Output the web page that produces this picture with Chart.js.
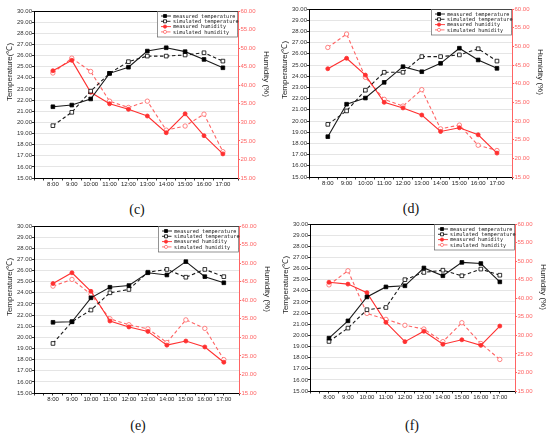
<!DOCTYPE html>
<html>
<head>
<meta charset="utf-8">
<script src="https://cdn.jsdelivr.net/npm/chart.js@4.4.1/dist/chart.umd.min.js"></script>
<style>
  html, body { margin: 0; padding: 0; background: #fff; }
  #wrap { position: relative; width: 550px; height: 436px; overflow: hidden; background: #fff; }
  canvas { position: absolute; }
  .cap { position: absolute; width: 40px; margin-left: -20px; text-align: center;
         font: 14px "Liberation Serif", serif; color: #111; line-height: 16px; }
</style>
</head>
<body>
<div id="wrap">
  <canvas id="panelC" width="275" height="198" style="left:0;top:0"></canvas>
  <canvas id="panelD" width="275" height="198" style="left:275px;top:0"></canvas>
  <canvas id="panelE" width="275" height="198" style="left:0;top:218px"></canvas>
  <canvas id="panelF" width="275" height="198" style="left:275px;top:218px"></canvas>
  <div class="cap" style="left:137px;top:202px">(c)</div>
  <div class="cap" style="left:411px;top:201px">(d)</div>
  <div class="cap" style="left:138px;top:418px">(e)</div>
  <div class="cap" style="left:412px;top:418px">(f)</div>
</div>
<script>
// x categories
const hours = ["8:00", "9:00", "10:00", "11:00", "12:00", "13:00", "14:00", "15:00", "16:00", "17:00"];
const seriesNames = ["measured temperature", "simulated temperature", "measured humidity", "simulated humidity"];

// (c)
const cMeasTemp = [21.4, 21.55, 22.1, 24.4, 24.95, 26.4, 26.7, 26.35, 25.65, 24.9];
const cSimTemp  = [19.7, 20.9, 22.8, 24.4, 25.45, 25.95, 25.95, 26.05, 26.25, 25.5];
const cMeasHum  = [43.9, 46.7, 38.1, 35.0, 33.5, 31.7, 27.2, 32.3, 26.4, 21.5];
const cSimHum   = [43.3, 47.3, 43.7, 35.7, 34.0, 35.7, 27.9, 29.0, 32.2, 22.1];

// (d)
const dMeasTemp = [18.6, 21.5, 22.05, 23.45, 24.85, 24.4, 25.15, 26.5, 25.45, 24.7];
const dSimTemp  = [19.7, 20.9, 22.75, 24.35, 24.35, 25.75, 25.75, 25.9, 26.45, 25.35];
const dMeasHum  = [44.0, 46.8, 42.3, 35.0, 33.5, 31.6, 27.2, 28.2, 26.3, 21.4];
const dSimHum   = [49.7, 53.3, 41.7, 35.8, 34.0, 38.4, 27.9, 28.9, 23.5, 22.1];

// (e)
const eMeasTemp = [21.35, 21.4, 23.55, 24.5, 24.65, 25.8, 25.6, 26.8, 25.45, 24.9];
const eSimTemp  = [19.45, 21.4, 22.45, 24.0, 24.3, 25.85, 26.1, 25.4, 26.1, 25.45];
const eMeasHum  = [44.5, 47.4, 42.4, 34.4, 32.8, 31.6, 27.9, 29.0, 27.4, 23.3];
const eSimHum   = [43.8, 45.6, 41.6, 35.0, 33.4, 32.3, 28.6, 34.7, 32.4, 24.0];

// (f)
const fMeasTemp = [19.75, 21.3, 23.45, 24.35, 24.45, 26.05, 25.35, 26.55, 26.45, 24.8];
const fSimTemp  = [19.45, 20.65, 22.3, 22.5, 25.0, 25.65, 25.85, 25.35, 25.95, 25.4];
const fMeasHum  = [44.3, 43.8, 41.5, 33.5, 28.3, 31.1, 27.6, 28.8, 27.3, 32.5];
const fSimHum   = [43.6, 47.4, 35.9, 34.3, 32.7, 31.7, 28.3, 33.4, 27.8, 23.5];

// axis ranges / ticks
const tempMin = 15, tempMax = 30, tempStep = 1;
const humMin = 15, humMax = 60, humStep = 5;

Chart.defaults.font.family = "'Liberation Sans', Arial, sans-serif";
Chart.defaults.animation = false;

const RED = "#ff3030";
const RED_LIGHT = "#ff6464";

function toPoints(values) {
    return values.map((v, i) => ({ x: i, y: v }));
}

// legend box in the top right corner + top frame line + axis titles
const panelDecor = {
    id: "panelDecor",
    afterDraw(chart) {
        const { ctx, chartArea } = chart;
        ctx.save();

        // top frame
        ctx.strokeStyle = "#000";
        ctx.lineWidth = 1;
        ctx.beginPath();
        ctx.moveTo(chartArea.left, chartArea.top + 0.5);
        ctx.lineTo(chartArea.right, chartArea.top + 0.5);
        ctx.stroke();

        // legend
        const w = 81, h = 25.5;
        const x0 = chartArea.right - w, y0 = chartArea.top;
        ctx.fillStyle = "#fff";
        ctx.fillRect(x0, y0 + 1, w - 1, h - 1);
        ctx.strokeStyle = "#666";
        ctx.lineWidth = 0.7;
        ctx.strokeRect(x0 + 0.5, y0 + 0.5, w - 1, h);
        ctx.font = "5.2px 'DejaVu Sans Mono', monospace";
        ctx.textBaseline = "middle";
        chart.data.datasets.forEach((ds, i) => {
            const y = y0 + 5 + i * 5.3;
            ctx.strokeStyle = ds.borderColor;
            ctx.lineWidth = 0.9;
            ctx.setLineDash(ds.borderDash || []);
            ctx.beginPath();
            ctx.moveTo(x0 + 4, y);
            ctx.lineTo(x0 + 14, y);
            ctx.stroke();
            ctx.setLineDash([]);
            ctx.fillStyle = ds.pointBackgroundColor;
            ctx.strokeStyle = ds.pointBorderColor;
            ctx.lineWidth = 0.8;
            ctx.beginPath();
            if (ds.pointStyle === "rect") {
                ctx.rect(x0 + 6.5, y - 1.5, 3, 3);
            } else {
                ctx.arc(x0 + 8, y, 1.6, 0, Math.PI * 2);
            }
            ctx.fill();
            ctx.stroke();
            ctx.fillStyle = "#111";
            ctx.fillText(ds.label, x0 + 16, y + 0.3);
        });

        // axis titles
        ctx.fillStyle = "#222";
        ctx.font = "8px 'Liberation Sans', Arial, sans-serif";
        ctx.textAlign = "center";
        ctx.textBaseline = "middle";
        ctx.save();
        ctx.translate(chartArea.left - 24, chartArea.top + 61);
        ctx.rotate(-Math.PI / 2);
        ctx.fillText("Temperature(\u2103)", 0, 0);
        ctx.restore();
        ctx.save();
        ctx.translate(chartArea.right + 28, chartArea.top + 63);
        ctx.rotate(Math.PI / 2);
        ctx.fillText("Humidity (%)", 0, 0);
        ctx.restore();

        ctx.restore();
    },
};

function makePanel(canvasId, measTemp, simTemp, measHum, simHum, area) {
    const [left, right, top, bottom] = area;
    const canvas = document.getElementById(canvasId);
    const W = canvas.width, H = canvas.height;

    new Chart(canvas, {
        type: "line",
        data: {
            datasets: [
                {
                    label: seriesNames[0],
                    data: toPoints(measTemp),
                    yAxisID: "yT",
                    borderColor: "#1a1a1a",
                    borderWidth: 1.1,
                    pointStyle: "rect",
                    pointRadius: 2.6,
                    pointBorderWidth: 0.8,
                    pointBackgroundColor: "#000",
                    pointBorderColor: "#000",
                },
                {
                    label: seriesNames[1],
                    data: toPoints(simTemp),
                    yAxisID: "yT",
                    borderColor: "#1a1a1a",
                    borderWidth: 1.1,
                    borderDash: [3.5, 2.5],
                    pointStyle: "rect",
                    pointRadius: 2.6,
                    pointBorderWidth: 0.8,
                    pointBackgroundColor: "#fff",
                    pointBorderColor: "#000",
                },
                {
                    label: seriesNames[2],
                    data: toPoints(measHum),
                    yAxisID: "yH",
                    borderColor: RED,
                    borderWidth: 1.1,
                    pointStyle: "circle",
                    pointRadius: 2,
                    pointBorderWidth: 0.8,
                    pointBackgroundColor: RED,
                    pointBorderColor: RED,
                },
                {
                    label: seriesNames[3],
                    data: toPoints(simHum),
                    yAxisID: "yH",
                    borderColor: RED_LIGHT,
                    borderWidth: 1.1,
                    borderDash: [3.5, 2.5],
                    pointStyle: "circle",
                    pointRadius: 2.2,
                    pointBorderWidth: 0.8,
                    pointBackgroundColor: "#fff",
                    pointBorderColor: RED_LIGHT,
                },
            ],
        },
        options: {
            responsive: false,
            layout: { padding: { top: top, left: 0, right: 0, bottom: 0 } },
            plugins: {
                legend: { display: false },
                tooltip: { enabled: false },
            },
            elements: { line: { tension: 0 } },
            scales: {
                x: {
                    type: "linear",
                    min: -1,
                    max: 9.8,
                    afterFit: (scale) => { scale.height = H - bottom; },
                    border: { color: "#000", width: 1 },
                    grid: { drawOnChartArea: false, tickLength: 2.5, tickColor: "#000", lineWidth: 0.8 },
                    ticks: {
                        stepSize: 0.5,
                        autoSkip: false,
                        maxRotation: 0,
                        padding: 0,
                        color: "#222",
                        font: { size: 6 },
                        callback: (v) => (Number.isInteger(v) && v >= 0 && v < hours.length ? hours[v] : ""),
                    },
                },
                yT: {
                    type: "linear",
                    position: "left",
                    min: tempMin,
                    max: tempMax,
                    afterFit: (scale) => { scale.width = left; },
                    border: { color: "#000", width: 1 },
                    grid: { color: "#dedede", lineWidth: 0.8, tickLength: 2, tickColor: "#000" },
                    ticks: {
                        stepSize: tempStep,
                        autoSkip: false,
                        padding: 0,
                        color: "#333",
                        font: { size: 6 },
                        callback: (v) => v.toFixed(2),
                    },
                },
                yH: {
                    type: "linear",
                    position: "right",
                    min: humMin,
                    max: humMax,
                    afterFit: (scale) => { scale.width = W - right; },
                    border: { color: RED_LIGHT, width: 1 },
                    grid: { drawOnChartArea: false, tickLength: 2, tickColor: RED_LIGHT },
                    ticks: {
                        stepSize: humStep,
                        autoSkip: false,
                        padding: 0.5,
                        color: RED_LIGHT,
                        font: { size: 6 },
                        callback: (v) => v.toFixed(2),
                    },
                },
            },
        },
        plugins: [panelDecor],
    });
}

makePanel("panelC", cMeasTemp, cSimTemp, cMeasHum, cSimHum, [34, 238, 11, 178]);
makePanel("panelD", dMeasTemp, dSimTemp, dMeasHum, dSimHum, [34, 237, 9, 177]);
makePanel("panelE", eMeasTemp, eSimTemp, eMeasHum, eSimHum, [34, 239, 8, 175]);
makePanel("panelF", fMeasTemp, fSimTemp, fMeasHum, fSimHum, [35, 240, 6, 173]);
</script>
</body>
</html>
